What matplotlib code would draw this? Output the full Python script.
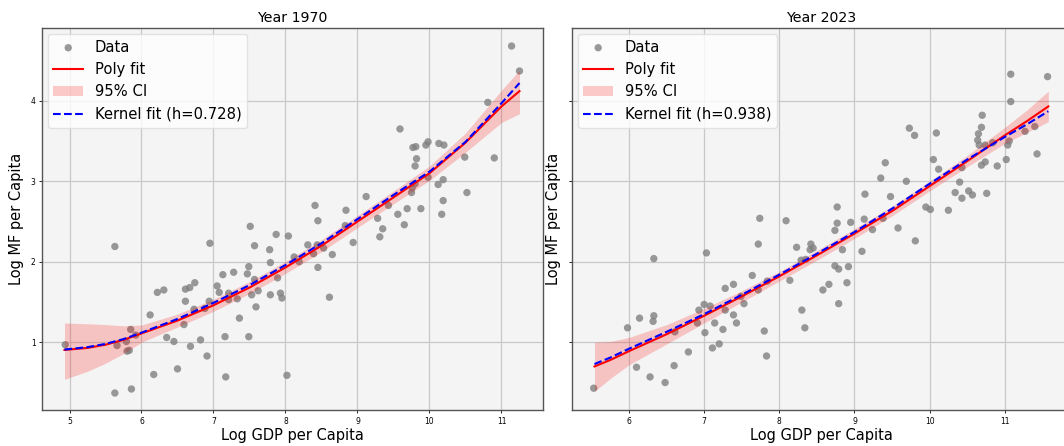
import numpy as np
import matplotlib
matplotlib.use("Agg")
import matplotlib.pyplot as plt

# scatter data, 1970
x_1970 = [4.94, 5.63, 5.66, 5.63, 5.79, 5.80, 5.83, 5.85, 5.86, 5.92,
          6.12, 6.17, 6.22, 6.31, 6.35, 6.45, 6.50, 6.59, 6.61, 6.61,
          6.67, 6.74, 6.68, 6.73, 6.82, 6.91, 6.88, 6.95, 6.94, 7.05,
          7.08, 7.13, 7.16, 7.17, 7.28, 7.21, 7.21, 7.36, 7.33, 7.49,
          7.47, 7.49, 7.51, 7.53, 7.57, 7.57, 7.59, 7.62, 7.78, 7.79,
          7.79, 7.87, 7.89, 7.93, 7.95, 8.04, 8.02, 8.12, 8.19, 8.31,
          8.41, 8.45, 8.44, 8.39, 8.45, 8.53, 8.61, 8.65, 8.84, 8.83,
          8.94, 9.12, 9.28, 9.35, 9.31, 9.43, 9.56, 9.59, 9.65, 9.69,
          9.75, 9.76, 9.77, 9.81, 9.82, 9.80, 9.80, 9.88, 9.95, 9.98,
          9.98, 10.13, 10.20, 10.12, 10.19, 10.19, 10.17, 10.49, 10.52, 10.81,
          10.90, 11.14, 11.25]
y_1970 = [0.97, 2.19, 0.96, 0.37, 1.01, 0.89, 0.90, 1.16, 0.42, 1.09,
          1.34, 0.60, 1.62, 1.65, 1.06, 1.01, 0.67, 1.22, 1.51, 1.66,
          1.68, 1.74, 0.95, 1.41, 1.03, 0.83, 1.42, 2.23, 1.51, 1.70,
          1.62, 1.84, 1.07, 0.57, 1.87, 1.61, 1.53, 1.30, 1.54, 1.07,
          1.85, 1.94, 2.44, 1.59, 2.20, 1.78, 1.44, 1.64, 2.15, 1.99,
          1.59, 2.34, 1.80, 1.61, 1.55, 2.32, 0.59, 2.06, 2.00, 2.21,
          2.70, 2.51, 2.21, 2.10, 1.93, 2.17, 1.56, 2.09, 2.64, 2.45,
          2.24, 2.81, 2.54, 2.41, 2.31, 2.70, 2.59, 3.65, 2.46, 2.66,
          2.86, 2.92, 3.42, 3.43, 3.28, 3.19, 2.97, 2.66, 3.45, 3.49,
          3.05, 3.47, 3.45, 2.96, 3.02, 2.76, 2.59, 3.30, 2.86, 3.98,
          3.29, 4.68, 4.37]

# scatter data, 2023
x_2023 = [5.53, 5.98, 6.10, 6.14, 6.28, 6.33, 6.33, 6.32, 6.48, 6.61,
          6.60, 6.79, 6.91, 6.93, 7.00, 7.01, 7.03, 7.08, 7.11, 7.14,
          7.20, 7.25, 7.28, 7.28, 7.39, 7.39, 7.43, 7.49, 7.53, 7.64,
          7.72, 7.72, 7.74, 7.80, 7.83, 7.84, 8.09, 8.14, 8.23, 8.29,
          8.30, 8.34, 8.35, 8.41, 8.42, 8.45, 8.58, 8.66, 8.74, 8.77,
          8.77, 8.74, 8.79, 8.84, 8.90, 8.79, 8.92, 8.95, 9.10, 9.13,
          9.14, 9.24, 9.35, 9.41, 9.38, 9.48, 9.58, 9.69, 9.73, 9.80,
          9.81, 9.95, 10.01, 10.05, 10.09, 10.12, 10.25, 10.34, 10.40, 10.43,
          10.43, 10.52, 10.57, 10.65, 10.64, 10.66, 10.69, 10.70, 10.74, 10.69,
          10.74, 10.76, 10.84, 10.90, 11.02, 11.04, 11.06, 11.08, 11.08, 11.27,
          11.40, 11.43, 11.57]
y_2023 = [0.43, 1.18, 0.69, 1.30, 0.57, 2.04, 1.33, 1.26, 0.50, 1.13,
          0.71, 0.88, 1.24, 1.40, 1.47, 1.12, 2.11, 1.45, 0.93, 1.24,
          0.98, 1.16, 1.40, 1.67, 1.34, 1.72, 1.24, 1.57, 1.48, 1.83,
          1.65, 2.22, 2.54, 1.14, 0.83, 1.76, 2.51, 1.77, 2.18, 2.02,
          1.40, 1.18, 2.03, 2.15, 2.22, 2.17, 1.65, 1.72, 2.39, 2.68,
          2.48, 1.95, 1.91, 2.15, 1.74, 1.48, 1.94, 2.49, 2.13, 2.53,
          2.84, 2.40, 3.04, 3.23, 2.54, 2.81, 2.42, 3.00, 3.66, 3.57,
          2.26, 2.68, 2.65, 3.27, 3.60, 3.15, 2.64, 2.86, 2.99, 3.17,
          2.79, 2.88, 2.83, 3.59, 3.51, 3.45, 3.67, 3.82, 3.45, 3.20,
          3.24, 2.85, 3.48, 3.19, 3.27, 3.45, 3.50, 3.99, 4.33, 3.62,
          3.68, 3.34, 4.30]

# fitted curves
fx_1970 = [4.93, 5.25, 5.5, 5.75, 6.0, 6.5, 7.0, 7.5, 8.0, 8.5, 9.0, 9.5, 10.0, 10.5, 11.0, 11.25]
poly_1970 = [0.905, 0.93, 0.97, 1.03, 1.11, 1.27, 1.46, 1.68, 1.93, 2.20, 2.50, 2.80, 3.10, 3.48, 3.93, 4.12]
lo_1970 = [0.54, 0.64, 0.74, 0.86, 1.00, 1.19, 1.385, 1.605, 1.855, 2.125, 2.425, 2.72, 3.01, 3.36, 3.73, 3.84]
hi_1970 = [1.24, 1.23, 1.22, 1.205, 1.215, 1.35, 1.535, 1.755, 2.005, 2.275, 2.575, 2.88, 3.19, 3.60, 4.13, 4.38]
kern_1970 = [0.91, 0.94, 0.98, 1.04, 1.12, 1.29, 1.49, 1.71, 1.96, 2.23, 2.53, 2.83, 3.12, 3.49, 3.97, 4.22]

fx_2023 = [5.54, 5.75, 6.0, 6.5, 7.0, 7.5, 8.0, 8.5, 9.0, 9.5, 10.0, 10.5, 11.0, 11.3, 11.58]
poly_2023 = [0.70, 0.78, 0.89, 1.10, 1.33, 1.57, 1.82, 2.08, 2.35, 2.63, 2.94, 3.25, 3.57, 3.75, 3.93]
lo_2023 = [0.39, 0.55, 0.72, 0.98, 1.24, 1.50, 1.76, 2.02, 2.29, 2.57, 2.88, 3.18, 3.47, 3.61, 3.74]
hi_2023 = [1.00, 1.01, 1.06, 1.22, 1.42, 1.64, 1.88, 2.14, 2.41, 2.69, 3.00, 3.32, 3.67, 3.89, 4.12]
kern_2023 = [0.73, 0.81, 0.92, 1.13, 1.35, 1.59, 1.84, 2.10, 2.37, 2.66, 2.97, 3.27, 3.55, 3.71, 3.87]

bandwidths = [0.728, 0.938]
years = [1970, 2023]

fig = plt.figure(figsize=(10.64, 4.46), dpi=100)
ax1 = fig.add_axes([0.0392, 0.0798, 0.4707, 0.8578])
ax2 = fig.add_axes([0.5373, 0.0798, 0.4693, 0.8578], sharey=ax1)

panels = [
    (ax1, x_1970, y_1970, fx_1970, poly_1970, lo_1970, hi_1970, kern_1970),
    (ax2, x_2023, y_2023, fx_2023, poly_2023, lo_2023, hi_2023, kern_2023),
]

for i, (ax, xs, ys, fx, py, lo, hi, ky) in enumerate(panels):
    ax.set_facecolor('#f4f4f4')
    ax.scatter(xs, ys, s=28, color='gray', alpha=0.8, edgecolors='none', label='Data', zorder=2)
    ax.plot(fx, py, color='red', lw=1.5, label='Poly fit', zorder=3)
    ax.fill_between(fx, lo, hi, color='red', alpha=0.2, lw=0, label='95% CI', zorder=2)
    ax.plot(fx, ky, color='blue', lw=1.5, ls='--', label='Kernel fit (h={:.3f})'.format(bandwidths[i]), zorder=4)
    ax.grid(True, color='#c8c8c8', lw=0.9)
    ax.set_axisbelow(True)
    ax.set_title('Year {}'.format(years[i]), fontsize=10.2, pad=4)
    ax.set_xlabel('Log GDP per Capita', fontsize=10.5, labelpad=2)
    ax.set_ylabel('Log MF per Capita', fontsize=10.5, labelpad=5)
    ax.tick_params(labelsize=5.5, length=2.5, width=0.6, pad=2)
    for sp in ax.spines.values():
        sp.set_color('#555555')
        sp.set_linewidth(1.0)
    ax.legend(loc='upper left', fontsize=10.6, framealpha=0.8, edgecolor='#dddddd',
              borderaxespad=0.4, handlelength=2.0)

ax1.set_xticks([5, 6, 7, 8, 9, 10, 11])
ax2.set_xticks([6, 7, 8, 9, 10, 11])
ax1.set_yticks([1, 2, 3, 4])
ax1.set_xlim(4.614, 11.57)
ax2.set_xlim(5.237, 11.882)
ax1.set_ylim(0.154, 4.906)
plt.setp(ax2.get_yticklabels(), visible=False)

fig.savefig('out.png', dpi=100)
